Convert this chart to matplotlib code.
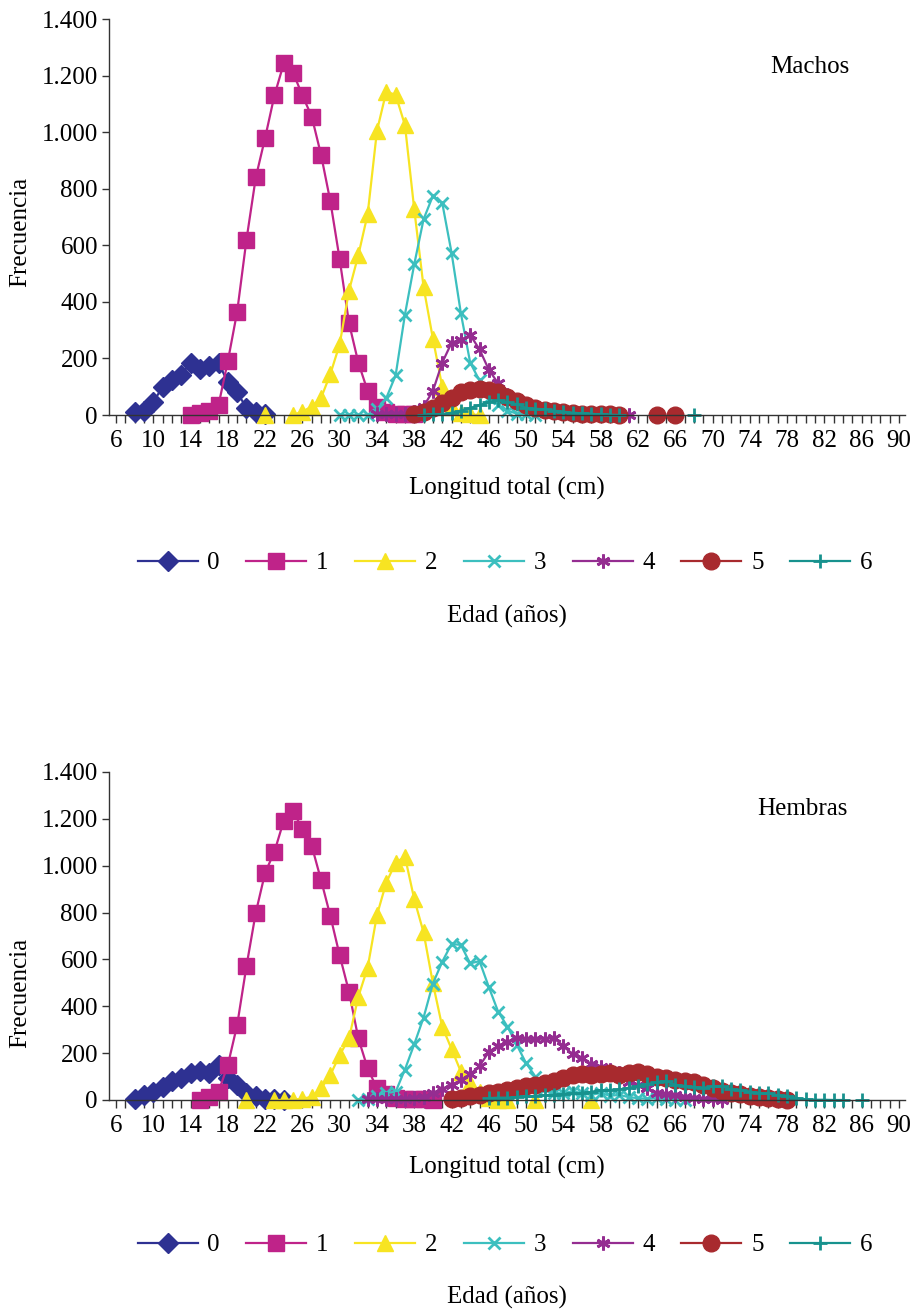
import numpy as np
import matplotlib
matplotlib.use("Agg")
import matplotlib.pyplot as plt
from matplotlib.ticker import MultipleLocator, FuncFormatter

nan = np.nan

# Edad (años) classes
edades = ["0", "1", "2", "3", "4", "5", "6"]

# Machos: first length (cm) of each series and frequencies at 1 cm steps
m_start = [8, 14, 22, 30, 34, 38, 39]
m0 = [10, 15, 45, 100, 122, 142, 185, 163, 172, 185, 115, 80, 25, 12, 2]
m1 = [0, 8, 15, 35, 190, 365, 620, 840, 980, 1130, 1243, 1210, 1130, 1055, 920,
      755, 550, 325, 185, 85, 28, 10, 5, 3, 2]
m2 = [0, nan, nan, 0, 12, 30, 60, 145, 250, 440, 565, 710, 1005, 1143, 1132, 1025,
      727, 452, 270, 100, 30, 8, 2, 0]
m3 = [0, 0, 0, 0, 20, 60, 140, 355, 533, 692, 775, 750, 574, 360, 185, 122, 60,
      35, 15, 5, 2, 0]
m4 = [2, 3, 5, 5, 10, 30, 85, 185, 255, 265, 283, 232, 160, 112, 70, 50, 35, 25,
      18, 12, 10, 8, 5, 4, 3, 2, 1, 0]
m5 = [3, 12, 25, 43, 60, 82, 88, 92, 90, 80, 65, 48, 35, 25, 18, 13, 10, 8, 5, 4,
      3, 2, 1, nan, nan, nan, 0, nan, 0]
m6 = [0, 2, 3, 8, 15, 25, 35, 45, 52, 45, 38, 25, 22, 20, 15, 12, 8, 6, 4, 2, 1, 0,
      nan, nan, nan, nan, nan, nan, nan, 0]

# Hembras
h_start = [8, 15, 20, 32, 33, 42, 46]
h0 = [3, 20, 36, 55, 80, 95, 117, 125, 114, 149, 92, 64, 28, 17, 5, 3, 1]
h1 = [0, 11, 36, 149, 320, 572, 800, 970, 1060, 1192, 1235, 1155, 1085, 939, 785,
      617, 462, 263, 135, 50, 26, 10, 5, 5, 3, 2]
h2 = [0, nan, nan, 0, 0, 2, 5, 14, 50, 107, 192, 263, 441, 565, 790, 928, 1013,
      1039, 857, 715, 498, 313, 218, 121, 71, 36, 10, 0, 0, nan, nan, 0, nan, nan,
      nan, nan, nan, 0]
h3 = [2, 5, 18, 30, 35, 130, 238, 352, 497, 590, 666, 662, 583, 593, 482, 377, 313,
      235, 157, 100, 50, 30, 28, 38, 28, 22, 30, 18, 22, 12, 8, 5, 8, 4, 2, 0]
h4 = [5, 5, 3, 5, 5, 10, 14, 30, 45, 65, 85, 110, 145, 205, 232, 248, 265, 262,
      260, 262, 265, 230, 195, 178, 152, 140, 130, 115, 75, 65, 50, 30, 25, 20, 12,
      8, 5, 3, 0]
h5 = [3, 8, 15, 22, 30, 35, 42, 50, 58, 65, 72, 82, 95, 105, 110, 106, 112, 115,
      108, 115, 120, 110, 100, 95, 85, 80, 75, 65, 50, 40, 30, 25, 18, 12, 8, 5, 2]
h6 = [8, 10, 10, 12, 15, 18, 20, 22, 25, 28, 30, 35, 42, 42, 45, 52, 58, 68, 75,
      80, 65, 60, 55, 52, 58, 60, 45, 42, 36, 30, 28, 20, 15, 8, 3, 1, 1, 0, 0, nan, 0]

colors = ["#2E3192", "#BF2389", "#F7E422", "#3CBFBF", "#952D91", "#A82A2E", "#17928E"]
markers = ["D", "s", "^", "x", (6, 2, 0), "o", "+"]
msizes = [10, 11, 11, 9, 10, 12, 10]

plt.rcParams["font.family"] = ["Liberation Serif", "DejaVu Serif"]
FS = 18

fig = plt.figure(figsize=(9.15, 13.12), dpi=100)
W, H = 915.0, 1312.0


def thousands(v, pos):
    return f"{int(v):,}".replace(",", ".")


def draw_panel(rect, starts, series, title, title_xy):
    left, top, right, bottom = rect
    ax = fig.add_axes([left / W, 1 - bottom / H, (right - left) / W, (bottom - top) / H])
    for i, vals in enumerate(series):
        x = np.arange(starts[i], starts[i] + len(vals))
        y = np.array(vals, dtype=float)
        ax.plot(x, y, color=colors[i], lw=1.6, marker=markers[i], ms=msizes[i],
                mec=colors[i], mfc=colors[i], mew=2 if i in (3, 4, 6) else 1,
                label=edades[i], clip_on=False)
    ax.set_xlim(5.25, 90.65)
    ax.set_ylim(0, 1400)
    ax.xaxis.set_major_locator(MultipleLocator(4, offset=2))
    ax.xaxis.set_minor_locator(MultipleLocator(1))
    ax.yaxis.set_major_locator(MultipleLocator(200))
    ax.yaxis.set_major_formatter(FuncFormatter(thousands))
    ax.spines["top"].set_visible(False)
    ax.spines["right"].set_visible(False)
    for s in ("left", "bottom"):
        ax.spines[s].set_color("#333333")
        ax.spines[s].set_linewidth(1.0)
    ax.tick_params(axis="both", which="both", direction="out", colors="#333333",
                   labelcolor="black", labelsize=FS, width=1.0)
    ax.tick_params(axis="x", which="both", length=6, pad=5)
    ax.tick_params(axis="y", length=5, pad=3)
    # series-group label in the upper right corner
    fig.text(title_xy[0] / W, 1 - title_xy[1] / H, title, ha="center", va="center",
             fontsize=FS)
    return ax


ax1 = draw_panel((109, 19, 905, 415), m_start, [m0, m1, m2, m3, m4, m5, m6],
                 "Machos", (810, 67))
ax2 = draw_panel((109, 772, 905, 1100), h_start, [h0, h1, h2, h3, h4, h5, h6],
                 "Hembras", (802, 809))

for ax, ylab_y, xlab_y, leg_y, tit_y in ((ax1, 232, 488, 563, 616),
                                         (ax2, 993, 1167, 1245, 1297)):
    fig.text(20 / W, 1 - ylab_y / H, "Frecuencia", rotation=90, ha="center",
             va="center", fontsize=FS)
    fig.text(507 / W, 1 - xlab_y / H, "Longitud total (cm)", ha="center",
             va="center", fontsize=FS)
    handles, labels = ax.get_legend_handles_labels()
    fig.legend(handles, labels, loc="center", bbox_to_anchor=(505 / W, 1 - leg_y / H),
               ncol=7, frameon=False, fontsize=FS, handlelength=2.4,
               handletextpad=0.4, columnspacing=1.05)
    fig.text(507 / W, 1 - tit_y / H, "Edad (años)", ha="center", va="center",
             fontsize=FS)

fig.savefig("out.png", dpi=100)
